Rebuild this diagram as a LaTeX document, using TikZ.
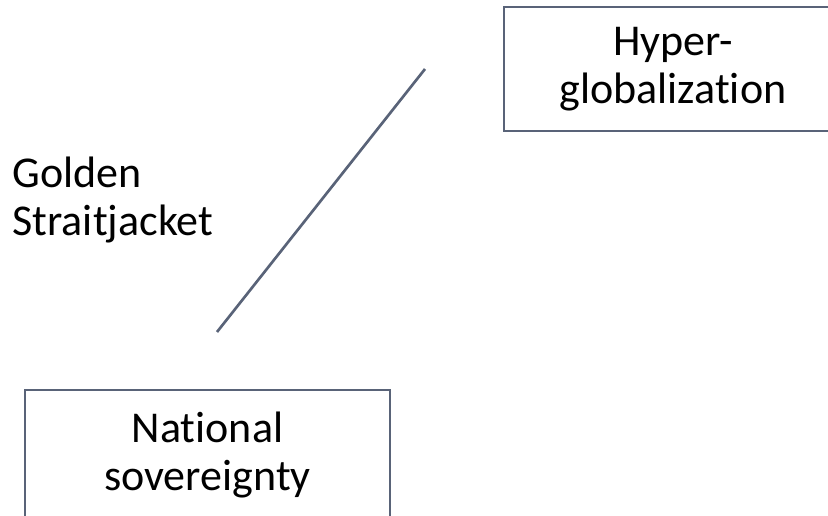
\documentclass[tikz,border=0pt]{standalone}
\usepackage{fontspec}
\setmainfont[Ligatures=NoCommon]{Carlito}
\definecolor{slate}{RGB}{89,99,120}
\tikzset{every picture/.style={line width=0.75pt}}
\tikzset{
  corner/.style={draw=slate, line width=1.5pt, rectangle, inner sep=0pt, align=center,
    font=\fontsize{33}{36}\selectfont},
  lbl/.style={anchor=north west, inner sep=0pt, align=left, font=\fontsize{33}{36}\selectfont}
}

\begin{document}
\begin{tikzpicture}[x=0.75pt,y=0.75pt,yscale=-1,xscale=1]
\useasboundingbox (0,0) rectangle (828,516);
\clip (0,0) rectangle (828,516);

% Boxes
\node [corner, minimum width=253.5pt, minimum height=93pt] (hyper) at (673,69) {Hyper-\\globalization};
\node [corner, minimum width=273.75pt, minimum height=97.5pt] (nation) at (207.5,455) {National\\sovereignty};

% Text Node
\node [lbl] (golden) at (12,156) {Golden\\Straitjacket};

% Straight Lines
\coordinate (lo) at (217,332);
\coordinate (hi) at (425,69);
\draw [slate, line width=2pt] (lo) -- (hi);

\end{tikzpicture}
\end{document}
